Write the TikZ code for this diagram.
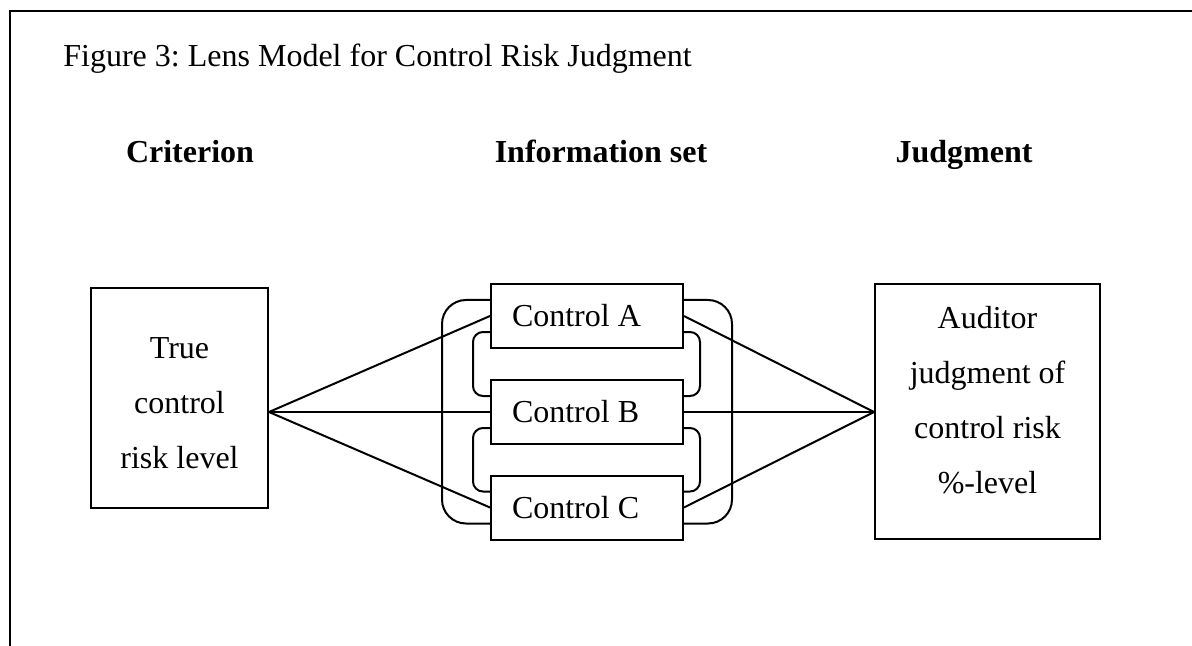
\documentclass[tikz,border=0pt]{standalone}
\usepackage{fontspec}
\setmainfont{Liberation Serif}
\usepackage{tikz}
\frenchspacing

\begin{document}
\begin{tikzpicture}[x=0.5pt,y=0.5pt]
\tikzstyle{every node}+=[inner sep=0pt, font=\fontsize{16pt}{27.5pt}\selectfont]
\tikzstyle{box}=[draw=black, line width=1pt]
\tikzstyle{ctrlbox}=[box, text width=75pt, align=flush left, inner xsep=10.5pt, minimum height=32pt]
\tikzstyle{link}=[black, line width=1pt]
\tikzstyle{outerloop}=[black, line width=1pt, rounded corners=12pt]
\tikzstyle{innerloop}=[black, line width=1pt, rounded corners=5pt]
\useasboundingbox (0,0) rectangle (1192,-646);
\draw [black, line width=1pt] (10,-646) -- (10,-11) -- (1192,-11);
\node [anchor=base west] (title) at (63,-67) {Figure 3: Lens Model for Control Risk Judgment};
\node [anchor=base] (hcrit) at (190,-163) {\bfseries Criterion};
\node [anchor=base] (hinfo) at (601,-163) {\bfseries Information set};
\node [anchor=base] (hjudg) at (964,-163) {\bfseries Judgment};
\node [box, minimum width=88.5pt, minimum height=110pt] (crit) at (179.5,-398) {};
\node [align=center] (crittext) at (179.5,-403) {True\\control\\risk level};
\node [box, minimum width=112.5pt, minimum height=127.5pt] (judg) at (987.5,-411.5) {};
\node [align=center] (judgtext) at (987.5,-400) {Auditor\\judgment of\\control risk\\\%-level};
\node [ctrlbox] (ctrlA) at (587,-316) {Control A};
\node [ctrlbox] (ctrlB) at (587,-412) {Control B};
\node [ctrlbox] (ctrlC) at (587,-507.5) {Control C};
\coordinate (critpt) at (crit.east |- ctrlB.west);
\coordinate (judgpt) at (judg.west |- ctrlB.east);
\draw [link] (critpt) -- (ctrlA.west);
\draw [link] (critpt) -- (ctrlB.west);
\draw [link] (critpt) -- (ctrlC.west);
\draw [link] (ctrlA.east) -- (judgpt);
\draw [link] (ctrlB.east) -- (judgpt);
\draw [link] (ctrlC.east) -- (judgpt);
\draw [outerloop] ([yshift=8pt]ctrlA.west) -- ++(-24pt,0) |- ([yshift=-8pt]ctrlC.west);
\draw [innerloop] ([yshift=-8pt]ctrlA.west) -- ++(-8.5pt,0) |- ([yshift=8pt]ctrlB.west);
\draw [innerloop] ([yshift=-8pt]ctrlB.west) -- ++(-8.5pt,0) |- ([yshift=8pt]ctrlC.west);
\draw [outerloop] ([yshift=8pt]ctrlA.east) -- ++(24pt,0) |- ([yshift=-8pt]ctrlC.east);
\draw [innerloop] ([yshift=-8pt]ctrlA.east) -- ++(8pt,0) |- ([yshift=8pt]ctrlB.east);
\draw [innerloop] ([yshift=-8pt]ctrlB.east) -- ++(8pt,0) |- ([yshift=8pt]ctrlC.east);
\end{tikzpicture}
\end{document}
